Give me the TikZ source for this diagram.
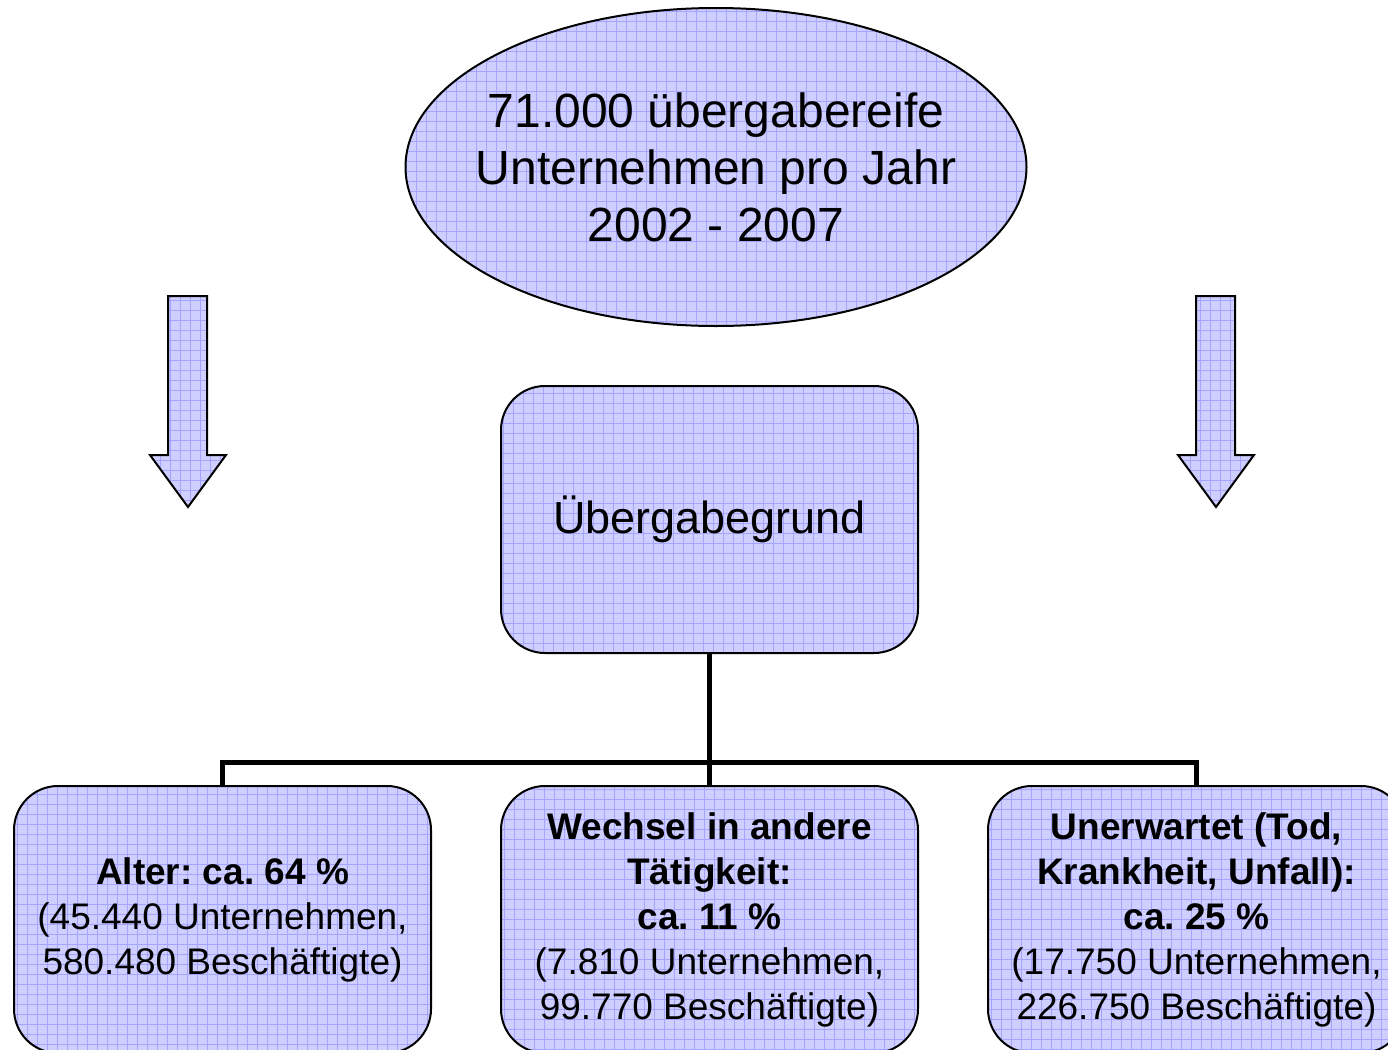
\documentclass[tikz,border=0pt]{standalone}
\usepackage{fontspec}
\setmainfont{Liberation Sans}
\usetikzlibrary{shapes.geometric, positioning}
\frenchspacing

\definecolor{boxfill}{RGB}{206,206,255}
\definecolor{boxgrid}{RGB}{165,165,255}

\tikzset{
	gridded/.style={fill=boxfill, draw=black, line width=1pt,
		path picture={\draw[boxgrid, line width=0.35pt, step=5pt]
			(path picture bounding box.south west) grid (path picture bounding box.north east);}},
	topic/.style={gridded, ellipse, inner xsep=-15pt, inner ysep=0pt, minimum width=310.5pt, minimum height=159pt,
		align=center, font=\fontsize{24}{28.5}\selectfont},
	reason/.style={gridded, rectangle, rounded corners=22pt, inner sep=0pt,
		minimum width=208.5pt, minimum height=133.5pt, align=center},
	small/.style={font=\fontsize{18.5}{22.5}\selectfont},
	link/.style={line width=2.5pt},
	downarrow/.style={gridded, line join=miter}
}

\begin{document}
\begin{tikzpicture}[x=0.5pt, y=-0.5pt]
	\useasboundingbox (0,0) rectangle (1388,1050);
	\clip (0,0) rectangle (1388,1050);
	
	% Top ellipse
	\node[topic] (jahr) at (716,167) {71.000 übergabereife\\Unternehmen pro Jahr\\2002 - 2007};
	
	% Block arrows left and right
	\foreach \ax in {188,1216}{
		\draw[downarrow] (\ax-20,296) -- (\ax+19,296) -- (\ax+19,455) -- (\ax+38,455)
			-- (\ax,507) -- (\ax-38,455) -- (\ax-20,455) -- cycle;
	}
	
	% Middle box
	\node[reason, font=\fontsize{22.5}{27}\selectfont] (grund) at (709.5,519.5) {Übergabegrund};
	
	% Bottom boxes
	\node[reason, small] (alter) at (222.5,919.5) {\textbf{Alter: ca. 64 \%}\\(45.440 Unternehmen,\\580.480 Beschäftigte)};
	\node[reason, small] (wechsel) at (709.5,919.5) {\textbf{Wechsel in andere}\\\textbf{Tätigkeit:}\\\textbf{ca. 11 \%}\\(7.810 Unternehmen,\\99.770 Beschäftigte)};
	\node[reason, small] (unerw) at (1196.5,919.5) {\textbf{Unerwartet (Tod,}\\\textbf{Krankheit, Unfall):}\\\textbf{ca. 25 \%}\\(17.750 Unternehmen,\\226.750 Beschäftigte)};
	
	% Connectors
	\coordinate (bus) at (709.5,762);
	\draw[link] (grund.south) -- (bus);
	\draw[link] (alter.north) |- (bus) -| (unerw.north);
	\draw[link] (bus) -- (wechsel.north);
	
\end{tikzpicture}
\end{document}
